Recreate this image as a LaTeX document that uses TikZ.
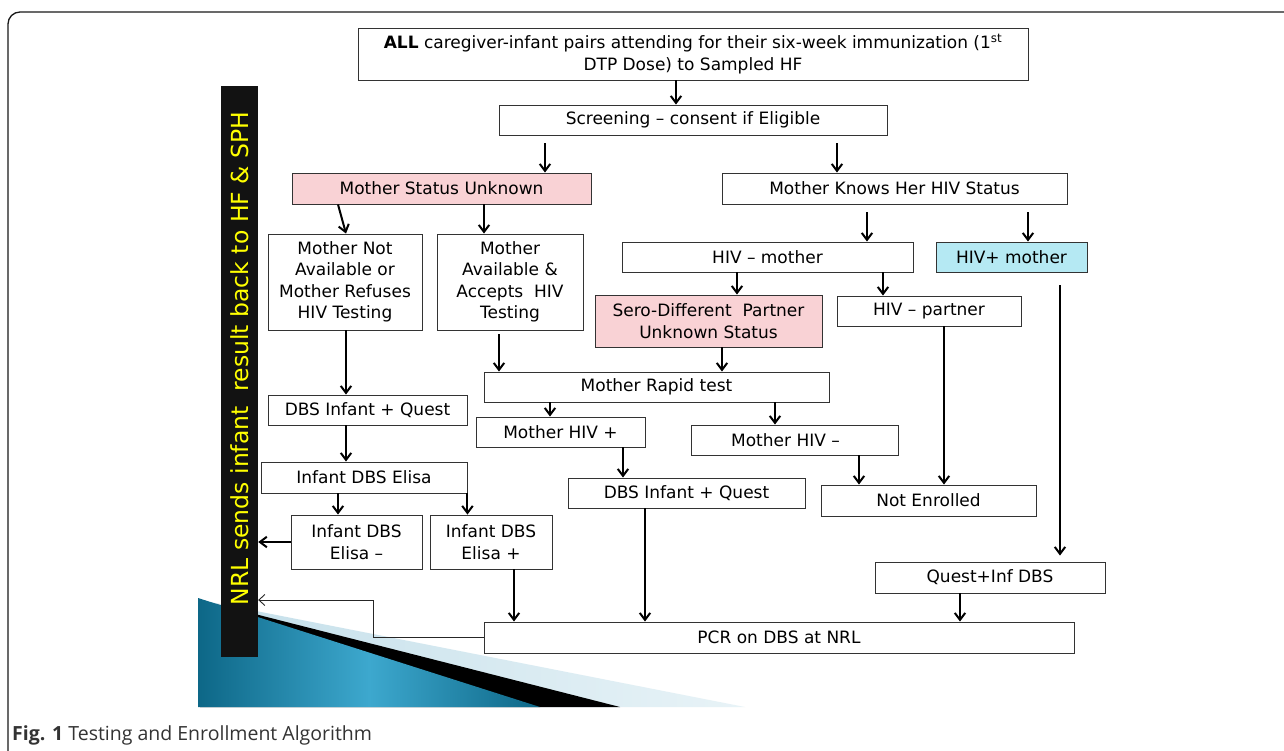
\documentclass[tikz,border=0pt]{standalone}
\usepackage{fontspec}
\setmainfont{DejaVu Sans}
\newfontfamily\capfont{Open Sans}
\usetikzlibrary{arrows.meta,calc}
\definecolor{pinkbox}{HTML}{F9D2D5}
\definecolor{cyanbox}{HTML}{B5E9F3}
\definecolor{dblueA}{HTML}{0D6787}
\definecolor{dblueB}{HTML}{3DA8CE}
\definecolor{lblueA}{HTML}{C4DFEA}
\definecolor{lblueB}{HTML}{E8F3F7}
\definecolor{baryellow}{HTML}{FFFF00}
\tikzset{
  box/.style={draw=black!80, line width=0.9pt, fill=white, inner sep=0pt, align=center,
    font=\fontsize{17}{21.5}\selectfont},
  arr/.style={-{Straight Barb[length=7pt,width=10.5pt,line width=2pt]}, line width=2pt},
  thinarr/.style={-{Straight Barb[length=6pt,width=11pt,line width=0.9pt]}, line width=0.9pt, black!85},
}
\begin{document}
\begin{tikzpicture}[x=1pt,y=-1pt]
\useasboundingbox (0,0) rectangle (1284,750);
\clip (0,0) rectangle (1284,750);
\fill[white] (0,0) rectangle (1284,750);
% outer frame
\draw[line width=1.3pt, black!90, rounded corners=12pt] (8,770) -- (8,12) -- (1300,12);
% decorative triangles
\shade[left color=lblueA, right color=lblueB] (200,600) -- (745,707) -- (200,707) -- cycle;
\fill[black] (200,600) -- (620,707) -- (200,707) -- cycle;
\shade[left color=dblueA, right color=dblueA, middle color=dblueB] (198,598) -- (540,707) -- (198,707) -- cycle;
% side bar
\node[fill=black!93, minimum width=571, minimum height=37, inner sep=0pt, rotate=90,
  text=baryellow, font=\fontsize{23.5}{26}\selectfont] (bar) at (239.5,371.5)
  {\hspace{26pt}NRL sends infant\ \ result back to HF \& SPH};
% boxes
\node[box, minimum width=670, minimum height=52] (top) at (693,54)
  {\textbf{ALL} caregiver-infant pairs attending for their six-week immunization (1\textsuperscript{st}\\DTP Dose) to Sampled HF};
\node[box, minimum width=388, minimum height=30] (scr) at (693,120) {Screening – consent if Eligible};
\node[box, fill=pinkbox, minimum width=299, minimum height=31] (msu) at (441.5,188.5) {Mother Status Unknown};
\node[box, minimum width=345, minimum height=31] (mk) at (894.5,188.5) {Mother Knows Her HIV Status};
\node[box, minimum width=154, minimum height=96] (mna) at (345,282) {Mother Not\\Available or\\Mother Refuses\\HIV Testing};
\node[box, minimum width=146, minimum height=96] (ma) at (510,282) {Mother\\Available \&\\Accepts\ \ HIV\\Testing};
\node[box, minimum width=291, minimum height=30] (hm) at (767.5,257) {HIV – mother};
\node[box, fill=cyanbox, minimum width=151, minimum height=30] (hp) at (1011.5,257) {HIV+ mother};
\node[box, fill=pinkbox, minimum width=227, minimum height=52] (sero) at (708.5,321) {Sero-Different\ \ Partner\\Unknown Status};
\node[box, minimum width=184, minimum height=30] (hpart) at (929,311) {HIV – partner};
\node[box, minimum width=345, minimum height=30] (mrt) at (656.5,387) {Mother Rapid test};
\node[box, minimum width=169, minimum height=30] (mhp) at (560.5,432) {Mother HIV +};
\node[box, minimum width=207, minimum height=30] (mhn) at (794.5,440) {Mother HIV –\hspace{18pt}};
\node[box, minimum width=199, minimum height=30] (dbsl) at (367.5,410) {DBS Infant + Quest};
\node[box, minimum width=206, minimum height=31] (elisa) at (364,477.5) {Infant DBS Elisa};
\node[box, minimum width=131, minimum height=54] (elm) at (356.5,542) {Infant DBS\\Elisa –};
\node[box, minimum width=122, minimum height=54] (elp) at (491,542) {Infant DBS\\Elisa +};
\node[box, minimum width=237, minimum height=30] (dbsm) at (686.5,493) {DBS Infant + Quest};
\node[box, minimum width=215, minimum height=31] (ne) at (928.5,500.5) {Not Enrolled};
\node[box, minimum width=230, minimum height=31] (qi) at (990,577.5) {Quest+Inf DBS};
\node[box, minimum width=590, minimum height=31] (pcr) at (779,637.5) {PCR on DBS at NRL};
% arrows
\draw[arr] (top.south -| 676,0) -- (scr.north -| 676,0);
\draw[arr] ($(scr.south -| 545,0)+(0,8)$) -- (msu.north -| 545,0);
\draw[arr] ($(scr.south -| 837,0)+(0,8)$) -- (mk.north -| 837,0);
\draw[arr] (msu.south -| 338,0) -- (mna.north -| 346,0);
\draw[arr] (msu.south -| 484,0) -- (ma.north -| 484,0);
\draw[arr] ($(mk.south -| 867,0)+(0,8)$) -- (hm.north -| 867,0);
\draw[arr] ($(mk.south -| 1028,0)+(0,8)$) -- (hp.north -| 1028,0);
\draw[arr] (hm.south -| 737,0) -- (sero.north -| 737,0);
\draw[arr] (hm.south -| 883,0) -- (hpart.north -| 883,0);
\draw[arr] (sero.south -| 722,0) -- (mrt.north -| 722,0);
\draw[arr] ($(ma.south -| 499,0)+(0,4)$) -- (mrt.north -| 499,0);
\draw[arr] (mrt.south -| 550,0) -- (mhp.north -| 550,0);
\draw[arr] (mrt.south -| 775,0) -- (mhn.north -| 775,0);
\draw[arr] (mna.south -| 346,0) -- (dbsl.north -| 346,0);
\draw[arr] (dbsl.south -| 346,0) -- (elisa.north -| 346,0);
\draw[arr] (elisa.south -| 338,0) -- (elm.north -| 338,0);
\draw[arr] (elisa.south east) -- (elp.north -| elisa.south east);
\draw[arr] (elm.west) -- (bar.south |- elm.west);
\draw[arr] (elp.south -| 514,0) -- (pcr.north -| 514,0);
\draw[arr] (mhp.south -| 623,0) -- (dbsm.north -| 623,0);
\draw[arr] (dbsm.south -| 645,0) -- (pcr.north -| 645,0);
\draw[arr] (mhn.south -| 859,0) -- (ne.north -| 859,0);
\draw[arr] (hpart.south -| 944,0) -- (ne.north -| 944,0);
\draw[arr] ($(hp.south -| 1060,0)+(0,13)$) -- ($(qi.north -| 1060,0)+(0,-6)$);
\draw[arr] (qi.south -| 960,0) -- (pcr.north -| 960,0);
\coordinate (pb) at (373,600);
\draw[thinarr] (pcr.west) -| (pb) -- (bar.south |- pb);
% caption
\node[anchor=west, inner sep=0pt, text=black!80, font=\capfont\fontsize{19.5}{22}\selectfont] (cap) at (12,735)
  {\textbf{Fig. 1}\ Testing and Enrollment Algorithm};
\end{tikzpicture}
\end{document}
